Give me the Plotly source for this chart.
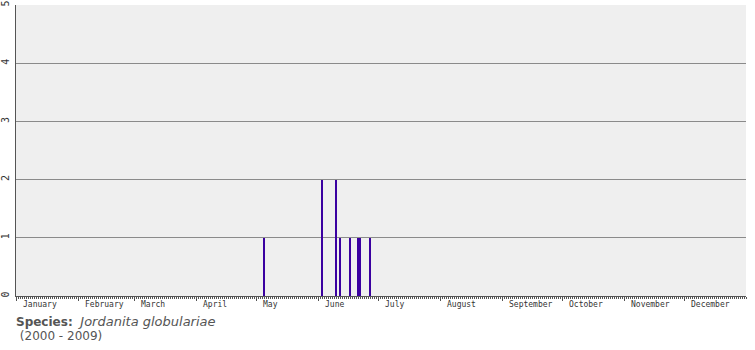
import plotly.graph_objects as go

# Data: zero-based day-of-year offsets and record counts
record_days = [124, 153, 160, 162, 167, 171, 172, 177]
record_counts = [1, 2, 2, 1, 1, 1, 1, 1]

month_names = ["January", "February", "March", "April", "May", "June", "July",
               "August", "September", "October", "November", "December"]
month_starts = [0, 31, 59, 90, 120, 151, 181, 212, 243, 273, 304, 334]

y_ticks = [0, 1, 2, 3, 4, 5]

fig = go.Figure()
fig.add_trace(go.Bar(
    x=record_days, y=record_counts, width=0.4,
    marker=dict(color="#3a00a0", line=dict(width=0)),
    hoverinfo="skip",
))

annotations = []
for name, start in zip(month_names, month_starts):
    annotations.append(dict(
        x=start, y=0, xref="x", yref="y", text=name, showarrow=False,
        xanchor="left", yanchor="top", xshift=5, yshift=-2,
        font=dict(family="DejaVu Sans Mono", size=8, color="#333333"),
    ))
annotations.append(dict(
    x=0, y=0, xref="paper", yref="paper", showarrow=False,
    xanchor="left", yanchor="top", yshift=-16, xshift=-2,
    text="<b>Species:</b>  <i><span style='font-size:13px'>Jordanita globulariae</span></i>",
    font=dict(family="DejaVu Sans", size=12, color="#555555"),
))
annotations.append(dict(
    x=0, y=0, xref="paper", yref="paper", showarrow=False,
    xanchor="left", yanchor="top", yshift=-31, xshift=-2,
    text=" (2000 - 2009)",
    font=dict(family="DejaVu Sans", size=12, color="#555555"),
))

fig.update_layout(
    width=755, height=350,
    margin=dict(l=16, r=9, t=5, b=54, autoexpand=False),
    paper_bgcolor="white", plot_bgcolor="#efefef",
    showlegend=False,
    annotations=annotations,
    bargap=0,
)
fig.update_xaxes(
    range=[0, 365], showgrid=False, zeroline=False, automargin=False,
    showline=True, linecolor="#555555", linewidth=1,
    tickmode="array", tickvals=month_starts, showticklabels=False,
    ticks="outside", ticklen=4, tickcolor="#555555", tickwidth=1,
    minor=dict(tickmode="linear", tick0=0, dtick=1, ticks="outside",
               ticklen=2, tickcolor="#555555", tickwidth=1, showgrid=False),
)
fig.update_yaxes(
    range=[0, 5], tickmode="array", tickvals=y_ticks,
    ticktext=[str(v) for v in y_ticks], automargin=False,
    showgrid=True, gridcolor="#8a8a8a", gridwidth=1, zeroline=False,
    showline=True, linecolor="#555555", linewidth=1,
    tickangle=-90, ticks="", ticklabelstandoff=2,
    tickfont=dict(family="DejaVu Sans Mono", size=10, color="#333333"),
)

fig.write_html("out.html")
